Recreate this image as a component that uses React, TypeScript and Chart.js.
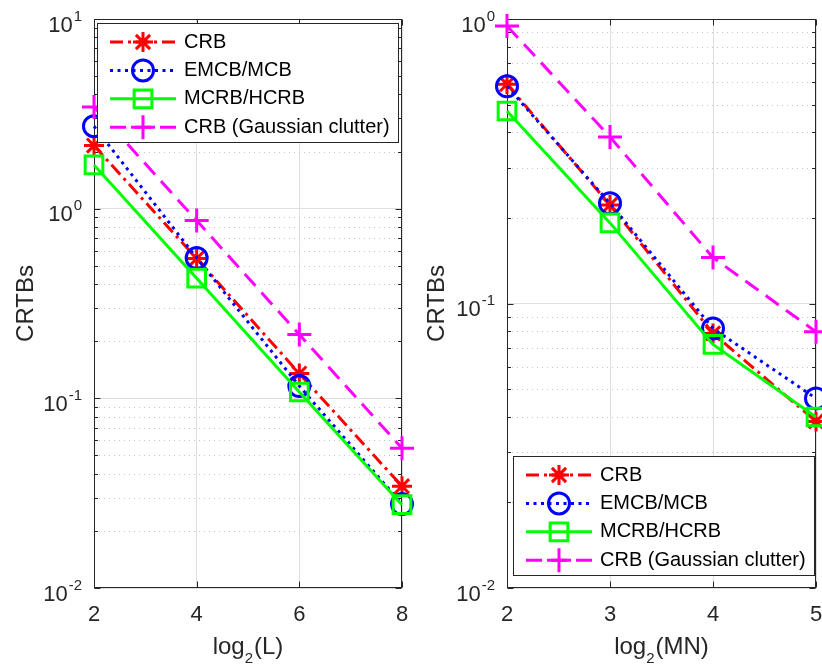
import React, { useEffect, useRef } from 'react';
import { Chart, registerables } from 'chart.js';
import { drawPoint } from 'chart.js/helpers';

Chart.register(...registerables);

// ---------- data ----------
const seriesLabels = ['CRB', 'EMCB/MCB', 'MCRB/HCRB', 'CRB (Gaussian clutter)'];

const xLeft = [2, 4, 6, 8];
const crbLeft = [2.15, 0.546, 0.135, 0.0344];
const emcbLeft = [2.72, 0.55, 0.116, 0.0277];
const mcrbLeft = [1.7, 0.43, 0.108, 0.0275];
const gaussLeft = [3.44, 0.865, 0.217, 0.0546];

const xRight = [2, 3, 4, 5];
const crbRight = [0.59, 0.222, 0.0785, 0.0385];
const emcbRight = [0.58, 0.225, 0.0817, 0.0464];
const mcrbRight = [0.475, 0.192, 0.0718, 0.0399];
const gaussRight = [0.945, 0.385, 0.145, 0.0795];

// x-axis titles as [main, subscript, rest]
const leftXTitle = ['log', '2', '(L)'];
const rightXTitle = ['log', '2', '(MN)'];
const yTitle = 'CRTBs';

const FONT = '"Liberation Sans", Arial, Helvetica, sans-serif';
const AXIS = '#262626';
const H = 665;

const styles = [
  { color: '#ff0000', dash: [13, 5, 3, 5], pointStyle: 'star', radius: 10 },
  { color: '#0000ff', dash: [3, 4.5], pointStyle: 'circle', radius: 10.5 },
  { color: '#00ff00', dash: [], pointStyle: 'rect', radius: 12.5 },
  { color: '#ff00ff', dash: [16, 9], pointStyle: 'cross', radius: 12 },
];

function line(ctx: CanvasRenderingContext2D, x1: number, y1: number, x2: number, y2: number) {
  ctx.beginPath();
  ctx.moveTo(x1, y1);
  ctx.lineTo(x2, y2);
  ctx.stroke();
}

const framePlugin = {
  id: 'matlabFrame',
  beforeDatasetsDraw(chart: any) {
    const { ctx, chartArea: a, scales } = chart;
    const ys = scales.y;
    const xs = scales.x;
    const minE = Math.round(Math.log10(ys.min));
    const maxE = Math.round(Math.log10(ys.max));
    ctx.save();
    // minor dotted grid
    ctx.strokeStyle = '#c4c4c4';
    ctx.lineWidth = 1;
    ctx.setLineDash([1, 4]);
    for (let e = minE; e < maxE; e++) {
      for (let m = 2; m <= 9; m++) {
        const py = Math.round(ys.getPixelForValue(m * Math.pow(10, e))) + 0.5;
        line(ctx, a.left, py, a.right, py);
      }
    }
    ctx.setLineDash([]);
    // box
    ctx.strokeStyle = AXIS;
    ctx.lineWidth = 1;
    const L = Math.round(a.left) + 0.5;
    const R = Math.round(a.right) - 0.5;
    const T = Math.round(a.top) + 0.5;
    const B = Math.round(a.bottom) - 0.5;
    ctx.strokeRect(L, T, R - L, B - T);
    // x ticks (inward, top and bottom)
    xs.ticks.forEach((t: any) => {
      const px = Math.round(xs.getPixelForValue(t.value)) + 0.5;
      line(ctx, px, B, px, B - 6);
      line(ctx, px, T, px, T + 6);
    });
    // y ticks
    for (let e = minE; e <= maxE; e++) {
      const py = Math.round(ys.getPixelForValue(Math.pow(10, e))) + 0.5;
      line(ctx, L, py, L + 6, py);
      line(ctx, R, py, R - 6, py);
      if (e < maxE) {
        for (let m = 2; m <= 9; m++) {
          const pm = Math.round(ys.getPixelForValue(m * Math.pow(10, e))) + 0.5;
          line(ctx, L, pm, L + 3.5, pm);
          line(ctx, R, pm, R - 3.5, pm);
        }
      }
    }
    ctx.restore();
  },
  afterDraw(chart: any, _args: any, opts: any) {
    const { ctx, chartArea: a, scales } = chart;
    const ys = scales.y;
    ctx.save();
    ctx.fillStyle = AXIS;
    ctx.textBaseline = 'alphabetic';
    ctx.textAlign = 'left';
    // y tick labels 10^k with real superscripts
    ys.ticks.forEach((t: any) => {
      const e = String(Math.round(Math.log10(t.value)));
      const py = ys.getPixelForValue(t.value);
      ctx.font = `15px ${FONT}`;
      const we = ctx.measureText(e).width;
      ctx.font = `22px ${FONT}`;
      const wb = ctx.measureText('10').width;
      const xr = a.left - 12;
      const xb = xr - we - 1 - wb;
      ctx.fillText('10', xb, py + 12.5);
      ctx.font = `15px ${FONT}`;
      ctx.fillText(e, xr - we, py + 1.5);
    });
    // x title with subscript
    const [m, s, r] = opts.xTitle as string[];
    ctx.font = `24px ${FONT}`;
    const wm = ctx.measureText(m).width;
    const wr = ctx.measureText(r).width;
    ctx.font = `15px ${FONT}`;
    const ws = ctx.measureText(s).width;
    const total = wm + ws + wr + 1;
    const cx = (a.left + a.right) / 2;
    let x = cx - total / 2;
    const base = 654;
    ctx.font = `24px ${FONT}`;
    ctx.fillText(m, x, base);
    x += wm;
    ctx.font = `15px ${FONT}`;
    ctx.fillText(s, x, base + 8.5);
    x += ws + 1;
    ctx.font = `24px ${FONT}`;
    ctx.fillText(r, x, base);
    ctx.restore();
  },
};

const legendPlugin = {
  id: 'mlegend',
  afterDatasetsDraw(chart: any, _args: any, opts: any) {
    const { ctx, chartArea: a } = chart;
    const w = 301;
    const h = 119;
    const bx = Math.round(a.left + opts.dx);
    const by = Math.round(opts.anchor === 'top' ? a.top + opts.dy : a.bottom - opts.dy - h);
    ctx.save();
    ctx.fillStyle = '#ffffff';
    ctx.fillRect(bx, by, w, h);
    ctx.strokeStyle = AXIS;
    ctx.lineWidth = 1;
    ctx.setLineDash([]);
    ctx.strokeRect(bx + 0.5, by + 0.5, w, h);
    chart.data.datasets.forEach((ds: any, i: number) => {
      const y = by + 19 + i * 28.4;
      ctx.strokeStyle = ds.borderColor;
      ctx.lineWidth = 3;
      ctx.setLineDash(ds.borderDash || []);
      line(ctx, bx + 13, y, bx + 79, y);
      ctx.setLineDash([]);
      ctx.fillStyle = 'rgba(0,0,0,0)';
      drawPoint(ctx, { pointStyle: ds.pointStyle, radius: ds.pointRadius, borderWidth: 3, rotation: 0 } as any, bx + 46, y);
      ctx.fillStyle = '#000000';
      ctx.font = `20px ${FONT}`;
      ctx.textBaseline = 'middle';
      ctx.textAlign = 'left';
      ctx.fillText(ds.label, bx + 87, y);
    });
    ctx.restore();
  },
};

type Cfg = {
  x: number[];
  series: number[][];
  xMin: number;
  xMax: number;
  xStep: number;
  yMax: number;
  xTitle: string[];
  chartLeft: number;
  chartRight: number;
  canvasW: number;
  legend: { dx: number; dy: number; anchor: 'top' | 'bottom' };
};

function makeConfig(c: Cfg): any {
  return {
    type: 'line',
    data: {
      datasets: c.series.map((vals, i) => ({
        label: seriesLabels[i],
        data: vals.map((v, j) => ({ x: c.x[j], y: v })),
        borderColor: styles[i].color,
        backgroundColor: 'rgba(0,0,0,0)',
        borderWidth: 3,
        borderDash: styles[i].dash,
        pointStyle: styles[i].pointStyle,
        pointRadius: styles[i].radius,
        pointBorderWidth: 3,
        pointBorderColor: styles[i].color,
        pointBackgroundColor: 'rgba(0,0,0,0)',
        tension: 0,
        fill: false,
        clip: false,
        order: 3 - i,
      })),
    },
    options: {
      responsive: false,
      animation: false,
      devicePixelRatio: 1,
      layout: { autoPadding: false, padding: { left: 0, right: c.canvasW - c.chartRight, top: 19, bottom: 0 } },
      plugins: {
        legend: { display: false },
        tooltip: { enabled: false },
        mlegend: c.legend,
        matlabFrame: { xTitle: c.xTitle },
      },
      scales: {
        x: {
          type: 'linear',
          min: c.xMin,
          max: c.xMax,
          afterFit: (s: any) => {
            s.height = H - 588;
            s.paddingLeft = 0;
            s.paddingRight = 0;
          },
          grid: { color: '#dfdfdf', lineWidth: 1, drawTicks: false },
          border: { display: false },
          ticks: {
            stepSize: c.xStep,
            autoSkip: false,
            maxRotation: 0,
            padding: 14,
            color: AXIS,
            font: { family: FONT, size: 22 },
            callback: (v: any) => String(v),
          },
          title: { display: false },
        },
        y: {
          type: 'logarithmic',
          min: 0.01,
          max: c.yMax,
          afterFit: (s: any) => {
            s.width = c.chartLeft;
            s.paddingTop = 0;
            s.paddingBottom = 0;
          },
          afterBuildTicks: (s: any) => {
            const t: any[] = [];
            for (let v = 0.01; v <= c.yMax * 1.001; v *= 10) t.push({ value: Number(v.toPrecision(3)) });
            s.ticks = t;
          },
          grid: { color: '#dfdfdf', lineWidth: 1, drawTicks: false },
          border: { display: false },
          ticks: { display: false },
          title: {
            display: true,
            text: yTitle,
            color: AXIS,
            font: { family: FONT, size: 24 },
            padding: { top: 12, bottom: 0 },
          },
        },
      },
    },
    plugins: [framePlugin, legendPlugin],
  };
}

function Plot({ cfg, left }: { cfg: Cfg; left: number }) {
  const ref = useRef<HTMLCanvasElement>(null);
  useEffect(() => {
    const chart = new Chart(ref.current as HTMLCanvasElement, makeConfig(cfg));
    return () => chart.destroy();
  }, []);
  return (
    <canvas
      ref={ref}
      width={cfg.canvasW}
      height={H}
      style={{ position: 'absolute', left, top: 0, width: cfg.canvasW, height: H, display: 'block' }}
    />
  );
}

const leftCfg: Cfg = {
  x: xLeft,
  series: [crbLeft, emcbLeft, mcrbLeft, gaussLeft],
  xMin: 2,
  xMax: 8,
  xStep: 2,
  yMax: 10,
  xTitle: leftXTitle,
  chartLeft: 94,
  chartRight: 402,
  canvasW: 430,
  legend: { dx: 3, dy: 4, anchor: 'top' },
};

const rightCfg: Cfg = {
  x: xRight,
  series: [crbRight, emcbRight, mcrbRight, gaussRight],
  xMin: 2,
  xMax: 5,
  xStep: 1,
  yMax: 1,
  xTitle: rightXTitle,
  chartLeft: 96,
  chartRight: 405,
  canvasW: 411,
  legend: { dx: 6, dy: 13, anchor: 'bottom' },
};

export default function App() {
  return (
    <div style={{ position: 'absolute', left: 0, top: 0, width: 822, height: H, background: '#ffffff', overflow: 'hidden' }}>
      <Plot cfg={leftCfg} left={0} />
      <Plot cfg={rightCfg} left={411} />
    </div>
  );
}
